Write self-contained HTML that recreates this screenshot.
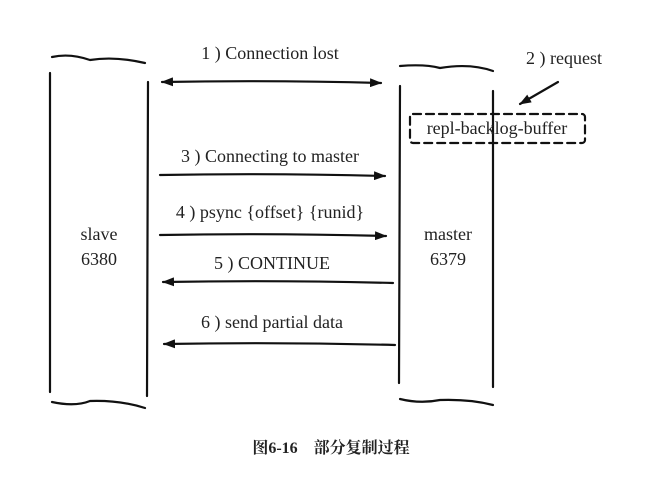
<!DOCTYPE html>
<html><head><meta charset="utf-8"><style>
html,body{margin:0;padding:0;background:#fff;}
svg{display:block;}
text{font-family:"Liberation Serif","Noto Serif CJK SC",serif;fill:#222;}
</style></head><body>
<svg width="662" height="479" viewBox="0 0 662 479" xmlns="http://www.w3.org/2000/svg">
<defs>
<marker id="a" markerWidth="12" markerHeight="9" refX="11" refY="4.5" orient="auto" markerUnits="userSpaceOnUse">
<path d="M0,0 L12,4.5 L0,9 Z" fill="#111"/></marker>
<marker id="b" markerWidth="12" markerHeight="9" refX="1" refY="4.5" orient="auto" markerUnits="userSpaceOnUse">
<path d="M12,0 L0,4.5 L12,9 Z" fill="#111"/></marker>
</defs>
<g stroke="#111" stroke-width="2.2" fill="none" stroke-linecap="round">
<path d="M52,57 Q70,53 90,60 Q115,56 145,63"/>
<path d="M52,402 Q75,407 90,401 Q120,400 145,408"/>
<path d="M50,73 L50,392"/>
<path d="M148,82 L147,396"/>
<path d="M400,66 Q425,64 440,68 Q470,63 493,71"/>
<path d="M400,399 Q420,404 440,400 Q470,399 493,405"/>
<path d="M400,86 L399,383"/>
<path d="M493,91 L493,387"/>
<path d="M162,82 Q270,80 381,83" marker-start="url(#b)" marker-end="url(#a)"/>
<path d="M160,175 Q270,173 385,176" marker-end="url(#a)"/>
<path d="M160,235 Q270,233 386,236" marker-end="url(#a)"/>
<path d="M393,283 Q280,280 163,282" marker-end="url(#a)"/>
<path d="M395,345 Q280,342 164,344" marker-end="url(#a)"/>
<path d="M558,82 L520,104" marker-end="url(#a)"/>
<rect x="410" y="114" width="175" height="29" rx="3" stroke-dasharray="8,5"/>
</g>
<g font-size="18" text-anchor="middle">
<text x="270" y="59">1 ) Connection lost</text>
<text x="564" y="64">2 ) request</text>
<text x="497" y="134">repl-backlog-buffer</text>
<text x="270" y="162">3 ) Connecting to master</text>
<text x="270" y="218">4 ) psync {offset} {runid}</text>
<text x="272" y="269">5 ) CONTINUE</text>
<text x="272" y="328">6 ) send partial data</text>
<text x="99" y="240">slave</text>
<text x="99" y="265">6380</text>
<text x="448" y="240">master</text>
<text x="448" y="265">6379</text>
</g>
<text x="331" y="453" font-size="16" text-anchor="middle" font-weight="bold">图6-16　部分复制过程</text>
</svg>
</body></html>
